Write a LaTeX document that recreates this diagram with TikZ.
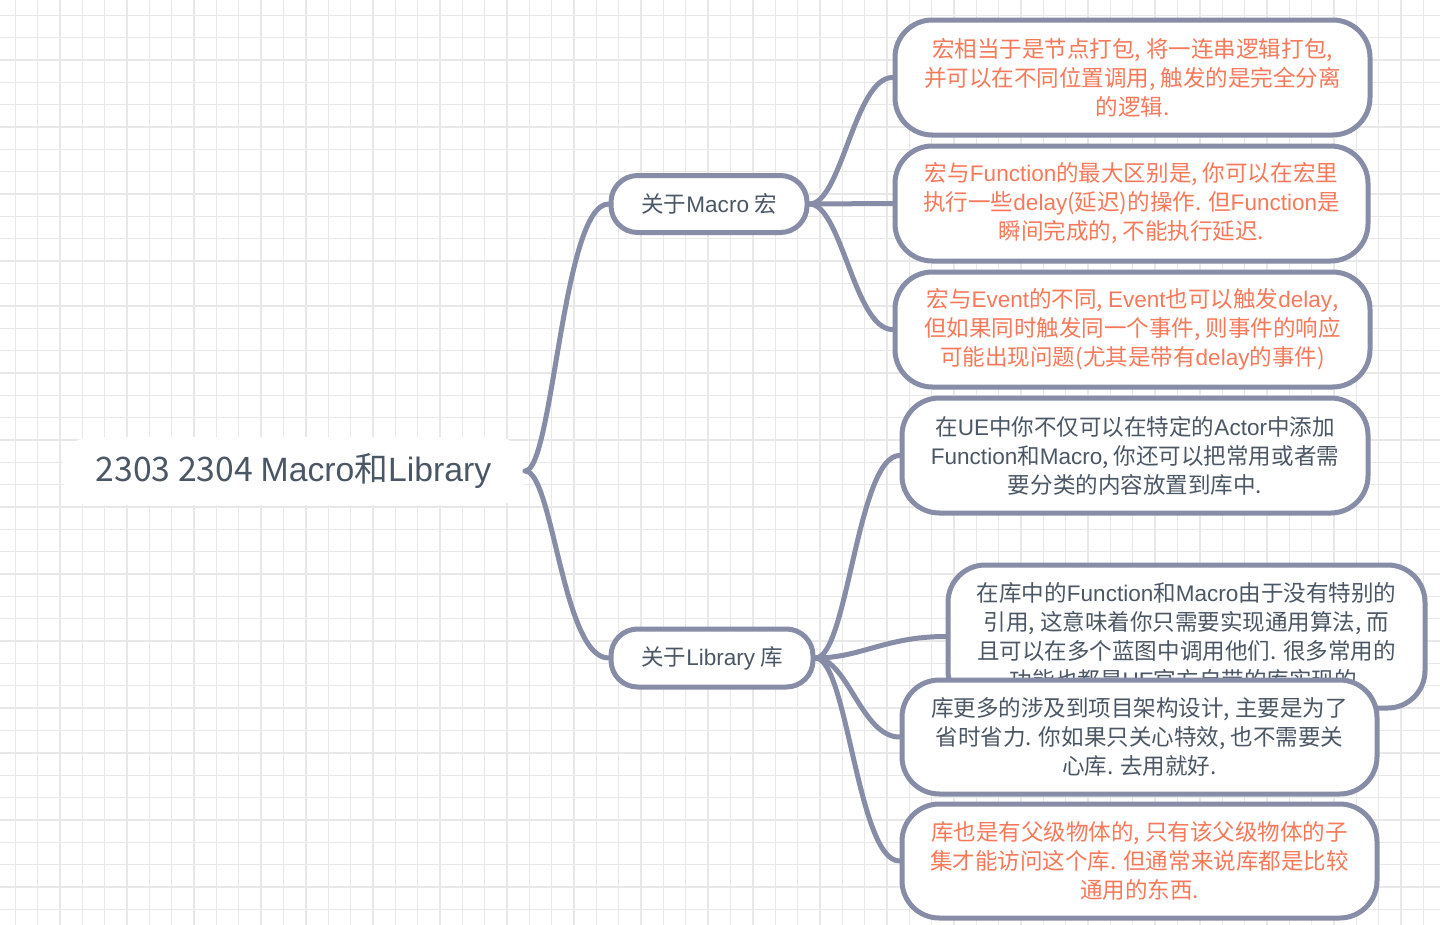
\documentclass[tikz,border=0pt]{standalone}
\usepackage{fontspec}
\setmainfont{Noto Sans CJK SC}
\newfontfamily\latfont{Liberation Sans}
\newcommand{\LT}[1]{{\latfont #1}}
\definecolor{gridc}{HTML}{E8E8E8}
\definecolor{bordc}{HTML}{878DA6}
\definecolor{orangec}{HTML}{F7795A}
\definecolor{darkc}{HTML}{4B5764}
\tikzset{
  gridline/.style={draw=gridc, line width=1pt},
  conn/.style={draw=bordc, line width=3.75pt, line cap=round},
  leafbox/.style={draw=bordc, line width=3.75pt, fill=white, rounded corners=28pt,
     align=center, inner sep=0pt, font=\fontsize{16.9pt}{21.75pt}\selectfont},
  midbox/.style={draw=bordc, line width=3.75pt, fill=white, rounded corners=20pt,
     align=center, inner sep=0pt, text=darkc, font=\fontsize{16.9pt}{20pt}\selectfont},
  rootbox/.style={fill=white, rounded corners=22pt, inner sep=0pt, text=darkc,
     minimum width=347pt, minimum height=51pt, font=\fontsize{25.3pt}{28pt}\selectfont},
  orangetxt/.style={text=orangec},
  darktxt/.style={text=darkc}
}
\begin{document}
\begin{tikzpicture}[x=0.75pt,y=-0.75pt]
\fill[white] (0,0) rectangle (1440,925);
\useasboundingbox (0,0) rectangle (1440,925);
\foreach \i in {0,...,64} {\draw[gridline] ({15.3+\i*22.35},0) -- ({15.3+\i*22.35},925);}
\foreach \i in {0,...,41} {\draw[gridline] (0,{15.3+\i*22.35}) -- (1440,{15.3+\i*22.35});}

% nodes
\node[rootbox] (root) at (293.5,471) {2303 2304 \LT{Macro}和\LT{Library}};
\node[midbox, minimum width=147pt, minimum height=42.75pt] (macro) at (709,204) {关于\LT{Macro} 宏};
\node[midbox, minimum width=151.5pt, minimum height=43.5pt] (lib) at (712,658) {关于\LT{Library} 库};

% connectors root
\draw[conn] (root.east) .. controls +(28,0) and +(-46,0) .. (macro.west);
\draw[conn] (root.east) .. controls +(28,0) and +(-46,0) .. (lib.west);

\node[leafbox, orangetxt, minimum width=356.25pt, minimum height=86.25pt] (l1) at (1132.5,77.5)
  {宏相当于是节点打包, 将一连串逻辑打包,\\并可以在不同位置调用, 触发的是完全分离\\的逻辑.};
\node[leafbox, orangetxt, minimum width=354.75pt, minimum height=86.25pt] (l2) at (1131.5,203.5)
  {宏与\LT{Function}的最大区别是, 你可以在宏里\\执行一些\LT{delay}(延迟)的操作. 但\LT{Function}是\\瞬间完成的, 不能执行延迟.};
\node[leafbox, orangetxt, minimum width=356.25pt, minimum height=86.25pt] (l3) at (1132.5,329.5)
  {宏与\LT{Event}的不同, \LT{Event}也可以触发\LT{delay},\\但如果同时触发同一个事件, 则事件的响应\\可能出现问题(尤其是带有\LT{delay}的事件)};
\node[leafbox, darktxt, minimum width=349.5pt, minimum height=86.25pt] (l4) at (1135,455.5)
  {在\LT{UE}中你不仅可以在特定的\LT{Actor}中添加\\\LT{Function}和\LT{Macro}, 你还可以把常用或者需\\要分类的内容放置到库中.};
\node[leafbox, darktxt, minimum width=357.75pt, minimum height=107.25pt] (l5) at (1186.5,636.5)
  {在库中的\LT{Function}和\LT{Macro}由于没有特别的\\引用, 这意味着你只需要实现通用算法, 而\\且可以在多个蓝图中调用他们. 很多常用的\\功能也都是\LT{UE}官方自带的库实现的.};
\node[leafbox, darktxt, minimum width=356.25pt, minimum height=85.5pt] (l6) at (1139.5,737)
  {库更多的涉及到项目架构设计, 主要是为了\\省时省力. 你如果只关心特效, 也不需要关\\心库. 去用就好.};
\node[leafbox, orangetxt, minimum width=356.25pt, minimum height=85.5pt] (l7) at (1139.5,861)
  {库也是有父级物体的, 只有该父级物体的子\\集才能访问这个库. 但通常来说库都是比较\\通用的东西.};

% connectors macro
\draw[conn] (macro.east) .. controls +(32,0) and +(-38,0) .. (l1.west);
\draw[conn] (macro.east) -- (l2.west);
\draw[conn] (macro.east) .. controls +(32,0) and +(-38,0) .. (l3.west);
% connectors library
\draw[conn] (lib.east) .. controls +(32,0) and +(-42,0) .. (l4.west);
\draw[conn] (lib.east) .. controls +(45,0) and +(-60,0) .. (l5.west);
\draw[conn] (lib.east) .. controls +(32,0) and +(-38,0) .. (l6.west);
\draw[conn] (lib.east) .. controls +(32,0) and +(-42,0) .. (l7.west);
\end{tikzpicture}
\end{document}
